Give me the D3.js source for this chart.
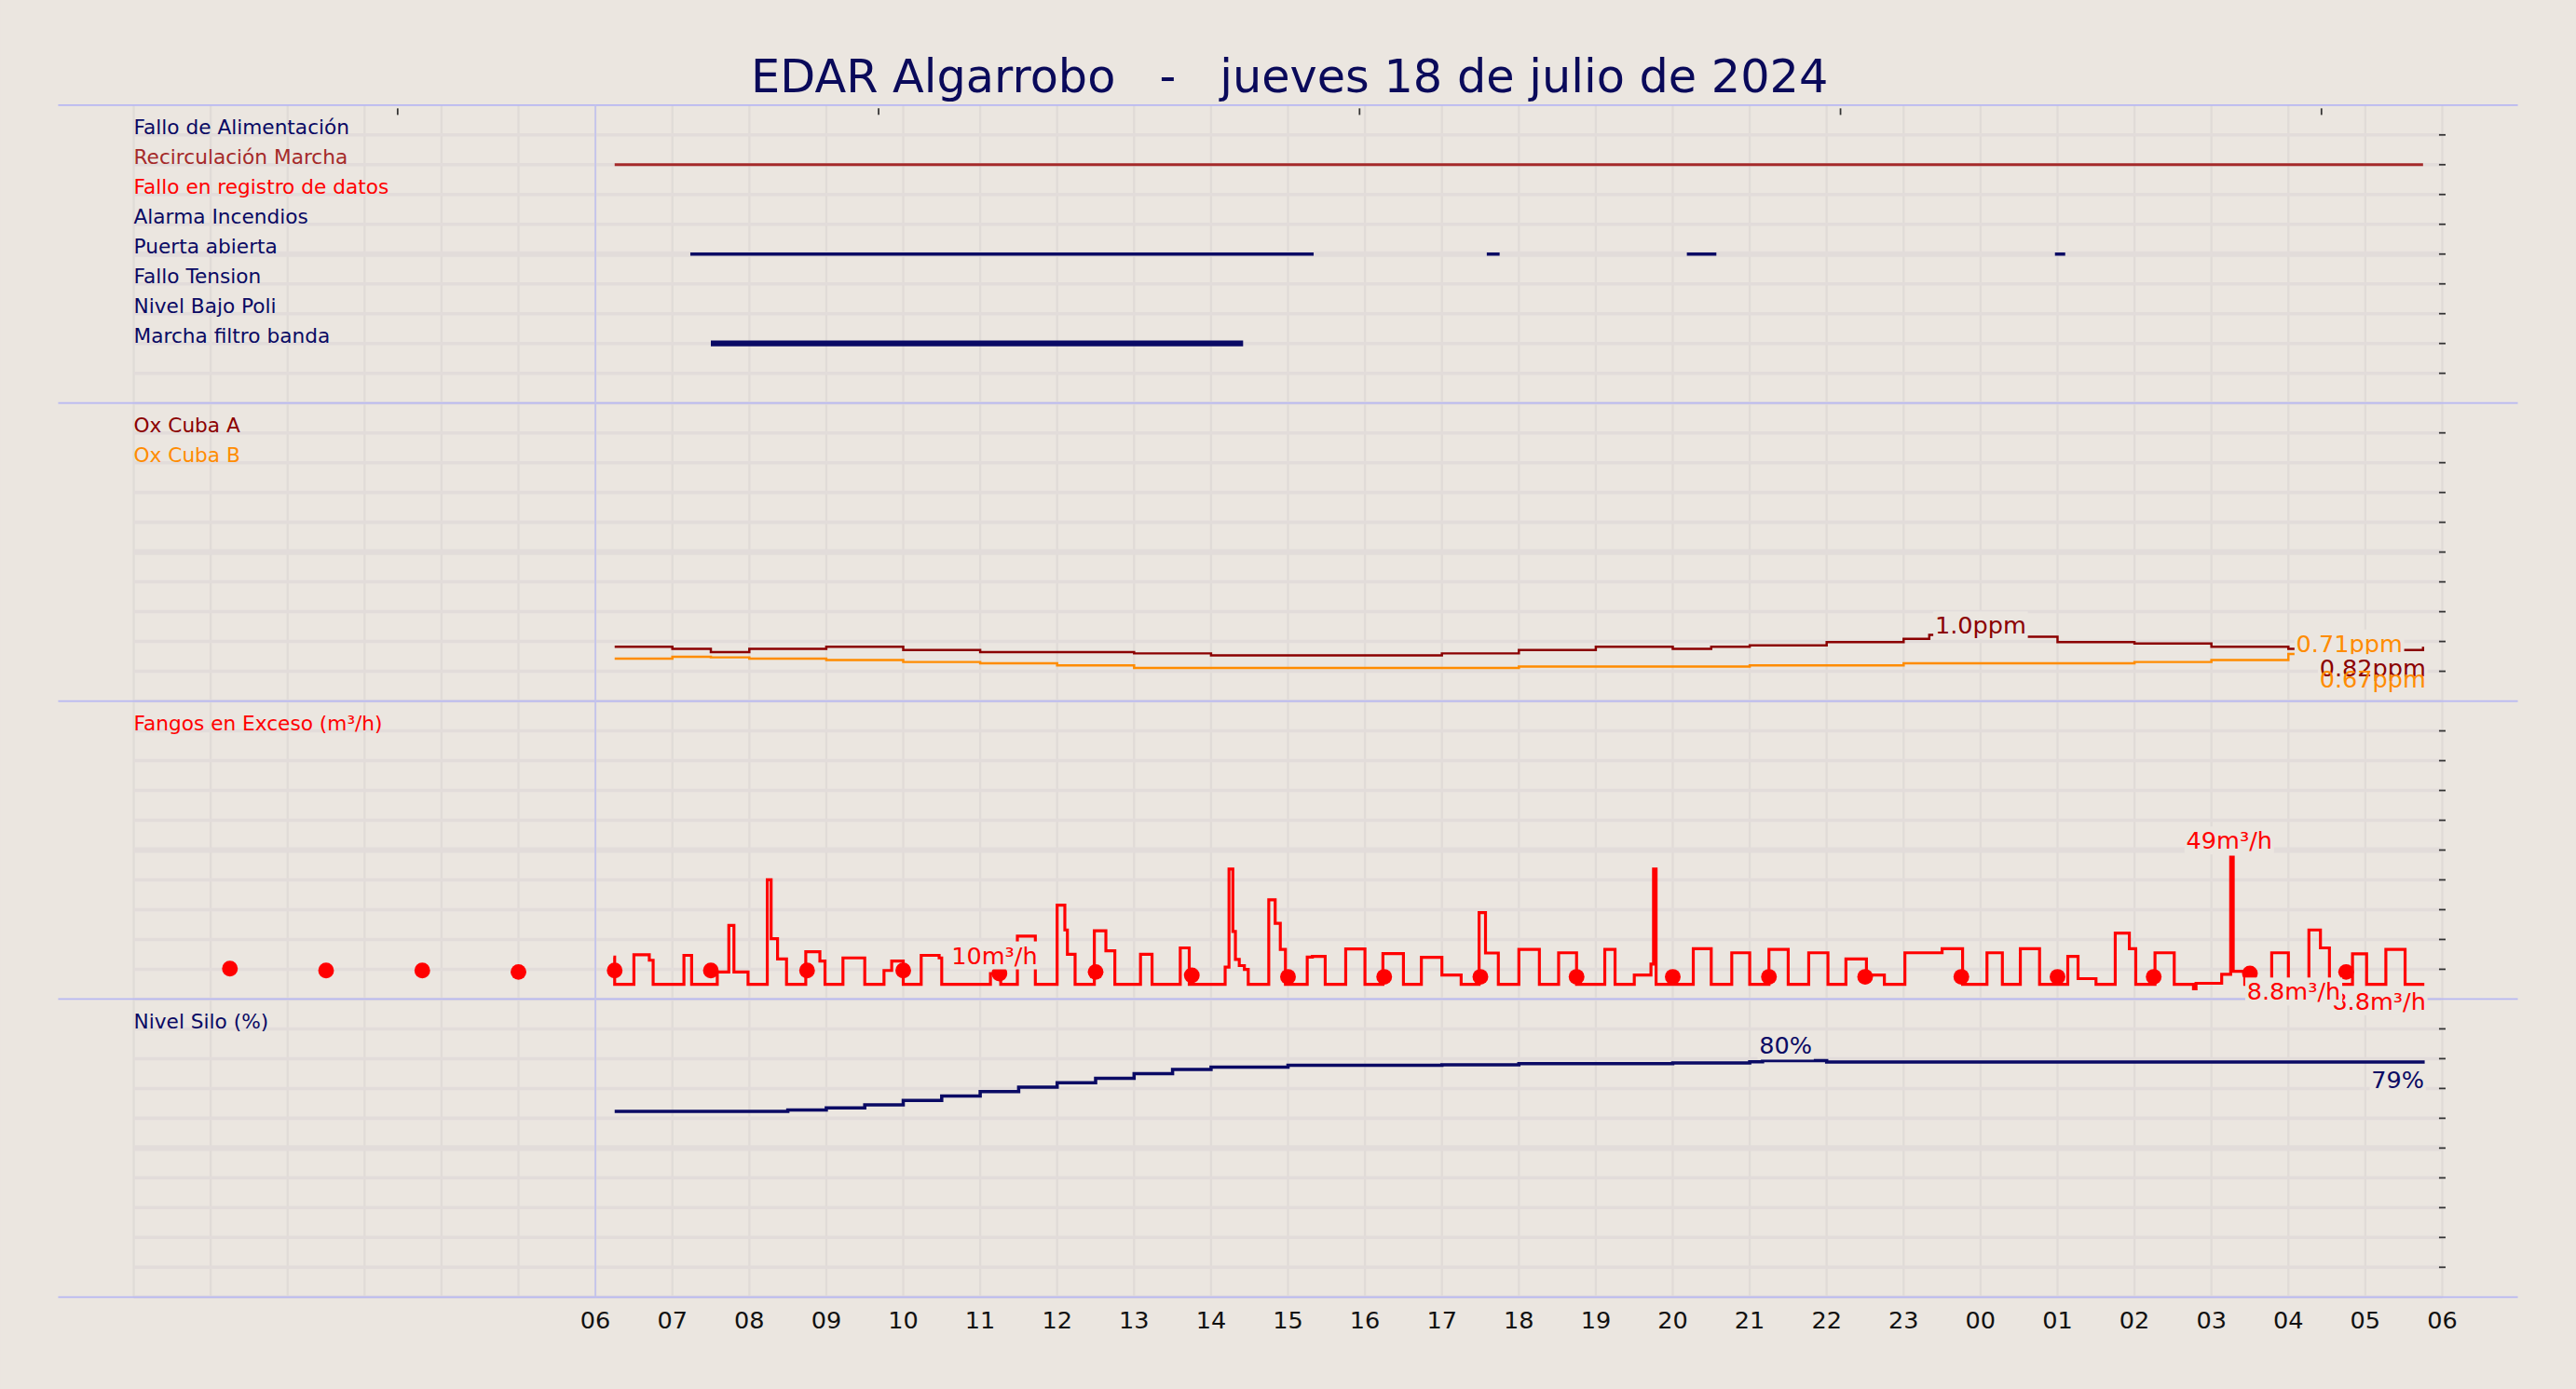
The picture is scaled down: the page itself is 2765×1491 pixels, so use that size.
<!DOCTYPE html>
<html><head><meta charset="utf-8">
<script src="https://cdn.jsdelivr.net/npm/d3@7"></script>
<style>body{margin:0;background:#ebe6e0}svg{display:block}text{font-family:"DejaVu Sans",sans-serif}</style>
</head><body><svg id="c"></svg>
<script>
const title = "EDAR Algarrobo   -   jueves 18 de julio de 2024";
const hourLabels = ["06","07","08","09","10","11","12","13","14","15","16","17","18","19","20","21","22","23","00","01","02","03","04","05","06"];
const digitalNames = ["Fallo de Alimentación","Recirculación Marcha","Fallo en registro de datos","Alarma Incendios","Puerta abierta","Fallo Tension","Nivel Bajo Poli","Marcha filtro banda"];
const digitalColors = ["#0a0a64","#a52a2a","#ff0000","#0a0a64","#0a0a64","#0a0a64","#0a0a64","#0a0a64"];
const digitalOn = [[1,"06:15","05:45"],[4,"07:14","15:20"],[4,"17:35","17:45"],[4,"20:11","20:34"],[4,"00:58","01:06"],[7,"07:30","14:25"]];
const oxTimes = ["06:15","07:00","07:30","08:00","09:00","10:00","11:00","12:00","13:00","14:00","15:00","16:00","17:00","18:00","19:00","20:00","20:30","21:00","22:00","23:00","23:20","00:00","01:00","02:00","03:00","04:00","05:00","05:45"];
const oxA = [0.82,0.79,0.74,0.79,0.82,0.77,0.74,0.74,0.72,0.69,0.69,0.69,0.72,0.77,0.82,0.79,0.82,0.84,0.89,0.94,1.0,0.97,0.89,0.87,0.82,0.79,0.77,0.82];
const oxB = [0.64,0.67,0.66,0.64,0.62,0.59,0.57,0.54,0.50,0.50,0.50,0.50,0.50,0.52,0.52,0.52,0.52,0.54,0.54,0.57,0.57,0.57,0.57,0.59,0.62,0.71,0.66,0.67];
const fangosT = ["06:14","06:15","06:30","06:42","06:45","07:09","07:15","07:35","07:44","07:48","07:59","08:14","08:17","08:22","08:29","08:44","08:55","08:59","09:13","09:30","09:45","09:51","10:00","10:14","10:28","10:30","11:08","11:16","11:29","11:43","12:00","12:06","12:08","12:14","12:29","12:38","12:45","13:05","13:14","13:36","13:43","14:11","14:14","14:17","14:19","14:22","14:26","14:29","14:45","14:50","14:54","14:58","15:15","15:19","15:29","15:45","16:00","16:14","16:30","16:44","17:00","17:15","17:29","17:34","17:44","18:00","18:16","18:31","18:45","19:07","19:15","19:30","19:43","19:45","19:47","20:16","20:30","20:46","21:00","21:15","21:30","21:46","22:01","22:15","22:31","22:45","23:01","23:30","23:46","00:05","00:17","00:31","00:46","01:08","01:16","01:30","01:45","01:56","02:01","02:16","02:31","02:46","02:48","03:08","03:15","03:17","03:26","03:47","04:00","04:16","04:25","04:32","04:50","05:01","05:16","05:31","05:46"];
const fangosV = [10.6,0,11.5,9.4,0,11.3,0,4.8,23,4.8,0,40.8,17.8,9.9,0,12.7,9.1,0,10.3,0,5.4,9.1,0,11.3,10.3,0,4.2,0,18.8,0,30.9,21.2,11.7,0,20.9,13.1,0,11.7,0,14.2,0,6.7,45,20.6,9.7,7.3,5.8,0,33,23.8,13.6,0,10.6,10.9,0,13.8,0,12,0,10.5,3.6,0,28,12.2,0,13.6,0,12.3,0,13.6,0,3.6,7.9,45,0,13.9,0,12.3,0,13.6,0,12.3,0,9.9,3.6,0,12.3,13.9,0,12.3,0,13.9,0,10.9,2.2,0,20,13.9,0,12.3,0,-1.8,0.4,3.9,49.6,5.1,0,12.3,0,21.2,14.2,0,11.9,0,13.6,0,0];
const dotT = ["01:15","02:30","03:45","05:00","06:15","07:30","08:45","10:00","11:15","12:30","13:45","15:00","16:15","17:30","18:45","20:00","21:15","22:30","23:45","01:00","02:15","03:30","04:45"];
const dotV = [6.1,5.4,5.4,4.8,5.4,5.4,5.4,5.4,4.2,4.8,3.5,2.9,2.9,2.9,2.9,2.9,2.9,2.9,2.9,2.9,2.9,4.2,4.8];
const siloT = ["06:15","08:00","08:30","09:00","09:30","10:00","10:30","11:00","11:30","12:00","12:30","13:00","13:30","14:00","15:00","17:00","18:00","20:00","21:00","21:10","22:00","05:45"];
const siloV = [62.8,62.8,63.3,64,65,66.5,68,69.5,71,72.5,74,75.6,77,77.8,78.4,78.6,79,79.2,79.6,80,79.5,79];

const W=1568,H=846;
const svg=d3.select("#c").attr("width",2765).attr("height",1491).attr("viewBox",`0 0 ${W} ${H}`);
const bg="#ebe6e0";
svg.append("rect").attr("width",W).attr("height",H).attr("fill",bg);
const hr=s=>{const [h,m]=s.split(":").map(Number);let v=h+m/60;if(v<6)v+=24;return v;};
const x=d3.scaleLinear().domain([0,30]).range([81,1487]);
const tops=[64,245.5,427,608.5], ph=181.5, step=ph/10;
const LF=12.3;
const g=svg.append("g");
for(let h=0;h<=30;h++) g.append("line").attr("x1",x(h)).attr("x2",x(h)).attr("y1",64).attr("y2",790).attr("stroke","#e0dbd7").attr("stroke-width",1.3);
tops.forEach(t=>{for(let k=1;k<=10;k++){g.append("line").attr("x1",81).attr("x2",1487).attr("y1",t+k*step).attr("y2",t+k*step).attr("stroke","#e2dcda").attr("stroke-width",k==5?3.5:2);
 if(k<10) g.append("line").attr("x1",1485).attr("x2",1489).attr("y1",t+k*step).attr("y2",t+k*step).attr("stroke","#333").attr("stroke-width",1);}});
tops.concat([790]).forEach(t=>g.append("line").attr("x1",35).attr("x2",1533).attr("y1",t).attr("y2",t).attr("stroke","#b8b8f2").attr("stroke-width",1));
g.append("line").attr("x1",x(6)).attr("x2",x(6)).attr("y1",64).attr("y2",790).attr("stroke","#c4c4ec").attr("stroke-width",1);
[3.43,9.68,15.93,22.18,28.43].forEach(h=>g.append("line").attr("x1",x(h)).attr("x2",x(h)).attr("y1",66).attr("y2",70).attr("stroke","#333").attr("stroke-width",1));
svg.append("text").attr("x",785).attr("y",56).attr("text-anchor","middle").attr("font-size",28).attr("fill","#0a0a5a").attr("xml:space","preserve").style("white-space","pre").text(title);
hourLabels.forEach((l,i)=>svg.append("text").attr("x",x(6+i)).attr("y",809).attr("text-anchor","middle").attr("font-size",14.5).attr("fill","#111").text(l));
digitalNames.forEach((n,i)=>svg.append("text").attr("x",81).attr("y",tops[0]+(i+1)*step-0.5).attr("font-size",LF).attr("fill",digitalColors[i]).text(n));
digitalOn.forEach(([r,a,b])=>svg.append("line").attr("x1",x(hr(a))).attr("x2",x(hr(b))).attr("y1",tops[0]+(r+1)*step).attr("y2",tops[0]+(r+1)*step).attr("stroke",r==1?"#a52a2a":"#0a0a64").attr("stroke-width",r==7?3.5:(r==1?1.8:2)));
const yOx=d3.scaleLinear().domain([0,4.5]).range([427,245.5]);
const lineOx=(vals)=>d3.line().curve(d3.curveStepAfter).x((d,i)=>x(hr(oxTimes[i]))).y(d=>yOx(d))(vals);
svg.append("path").attr("d",lineOx(oxB)).attr("fill","none").attr("stroke","#ff8c00").attr("stroke-width",1.4);
svg.append("path").attr("d",lineOx(oxA)).attr("fill","none").attr("stroke","#8b0000").attr("stroke-width",1.4);
svg.append("text").attr("x",81).attr("y",tops[1]+step-0.5).attr("font-size",LF).attr("fill","#8b0000").text("Ox Cuba A");
svg.append("text").attr("x",81).attr("y",tops[1]+2*step-0.5).attr("font-size",LF).attr("fill","#ff8c00").text("Ox Cuba B");
const yF=d3.scaleLinear().domain([0,116]).range([599.5,418.5]);
svg.append("text").attr("x",81).attr("y",tops[2]+step-0.5).attr("font-size",LF).attr("fill","#ff0000").text("Fangos en Exceso (m³/h)");
svg.append("path").attr("d",d3.line().curve(d3.curveStepAfter).x((d,i)=>x(hr(fangosT[i]))).y(d=>yF(d))(fangosV)).attr("fill","none").attr("stroke","#ff0000").attr("stroke-width",1.8);
svg.selectAll(".dot").data(dotV).enter().append("circle").attr("cx",(d,i)=>x(i<4?hr(dotT[i])-24:hr(dotT[i]))).attr("cy",d=>yF(d)).attr("r",4.8).attr("fill","#ff0000");
const yS=d3.scaleLinear().domain([0,100]).range([790,610]);
svg.append("text").attr("x",81).attr("y",tops[3]+step-0.5).attr("font-size",LF).attr("fill","#0a0a64").text("Nivel Silo (%)");
svg.append("path").attr("d",d3.line().curve(d3.curveStepAfter).x((d,i)=>x(hr(siloT[i]))).y(d=>yS(d))(siloV)).attr("fill","none").attr("stroke","#0a0a64").attr("stroke-width",2);
function lab(t,xx,yy,col,anchor,nobg){const tx=svg.append("text").attr("x",xx).attr("y",yy).attr("font-size",14.5).attr("fill",col).attr("text-anchor",anchor||"start").text(t);
 if(nobg) return; const b=tx.node().getBBox();svg.insert("rect",()=>tx.node()).attr("x",b.x-1).attr("y",b.y).attr("width",b.width+2).attr("height",b.height).attr("fill",bg);}
lab("1.0ppm",1178,386,"#8b0000");
lab("0.71ppm",1398,397,"#ff8c00");
lab("0.82ppm",1477,412,"#8b0000","end");
lab("0.67ppm",1477,419,"#ff8c00","end",true);
lab("10m³/h",579,587,"#ff0000");
lab("49m³/h",1331,517,"#ff0000");
lab("8.8m³/h",1477,615,"#ff0000","end");
lab("8.8m³/h",1368,609,"#ff0000");
lab("80%",1071,642,"#0a0a64");
lab("79%",1476,663,"#0a0a64","end");
</script></body></html>
